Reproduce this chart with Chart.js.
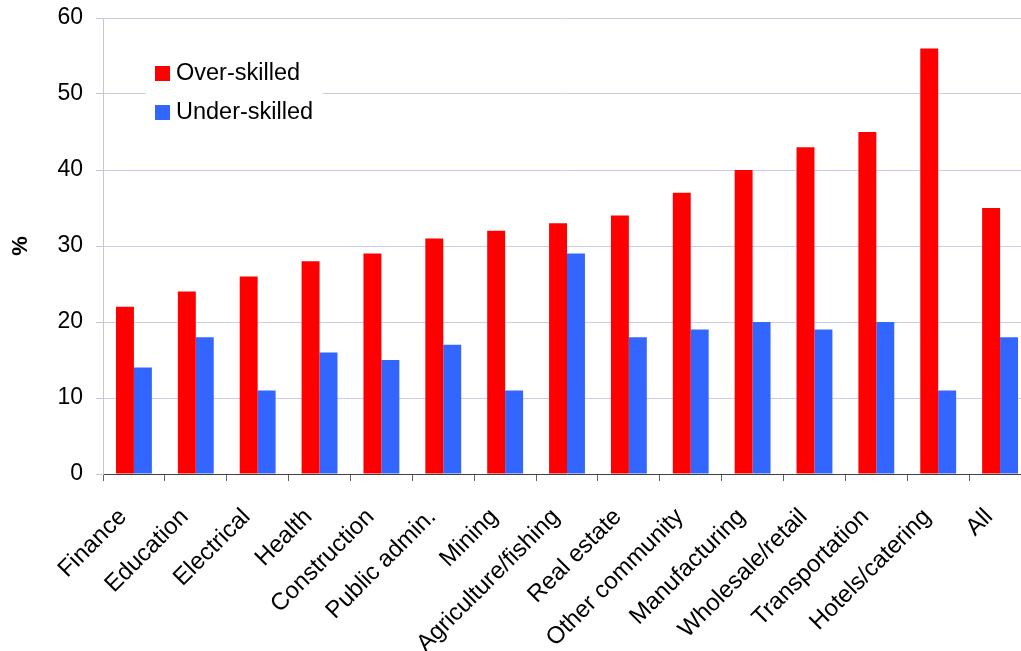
<!DOCTYPE html>
<html>
<head>
<meta charset="utf-8">
<script src="https://cdn.jsdelivr.net/npm/chart.js@4.4.1/dist/chart.umd.min.js"></script>
<style>
  html, body { margin: 0; padding: 0; background: #ffffff; overflow: hidden; }
  /* the plot runs slightly past the right edge of the window */
  #wrap { position: relative; width: 1031px; height: 651px; }
</style>
</head>
<body>
<div id="wrap"><canvas id="chart"></canvas></div>
<script>
const categories = ["Finance", "Education", "Electrical", "Health", "Construction", "Public admin.",
  "Mining", "Agriculture/fishing", "Real estate", "Other community", "Manufacturing",
  "Wholesale/retail", "Transportation", "Hotels/catering", "All"];
const overSkilled  = [22, 24, 26, 28, 29, 31, 32, 33, 34, 37, 40, 43, 45, 56, 35];
const underSkilled = [14, 18, 11, 16, 15, 17, 11, 29, 18, 19, 20, 19, 20, 11, 18];
const yTicks = [0, 10, 20, 30, 40, 50, 60];

const FONT = "'Liberation Sans', Arial, sans-serif";

// Legend drawn inside the plot area on a white panel
const insideLegend = {
  id: 'insideLegend',
  afterDatasetsDraw(chart) {
    const ctx = chart.ctx;
    const a = chart.chartArea;
    const x0 = a.left + 43, y0 = a.top + 34;
    ctx.save();
    ctx.fillStyle = '#ffffff';
    ctx.fillRect(x0, y0, 177, 82);
    ctx.font = '23.5px ' + FONT;
    ctx.textBaseline = 'middle';
    chart.data.datasets.forEach((ds, i) => {
      const cy = y0 + 21 + i * 39;
      ctx.fillStyle = ds.backgroundColor;
      ctx.fillRect(x0 + 9, cy - 7, 15, 15);
      ctx.fillStyle = '#000000';
      ctx.fillText(ds.label, x0 + 30, cy + 1);
    });
    ctx.restore();
  }
};

new Chart(document.getElementById('chart'), {
  type: 'bar',
  data: {
    labels: categories,
    datasets: [
      { label: 'Over-skilled', data: overSkilled, backgroundColor: '#ff0000' },
      { label: 'Under-skilled', data: underSkilled, backgroundColor: '#3366ff' }
    ]
  },
  options: {
    responsive: true,
    maintainAspectRatio: false,
    animation: false,
    layout: { padding: { top: 18, right: 0, bottom: 0, left: 0 } },
    datasets: { bar: { barPercentage: 1.0, categoryPercentage: 0.58 } },
    plugins: { legend: { display: false }, tooltip: { enabled: false } },
    scales: {
      x: {
        grid: { display: true, drawOnChartArea: false, offset: true, tickLength: 7, tickColor: '#606060', lineWidth: 1 },
        border: { display: true, color: '#404040', width: 1 },
        ticks: { color: '#000000', font: { family: FONT, size: 24 }, minRotation: 45, maxRotation: 45, autoSkip: false, padding: 22, labelOffset: -11 },
        afterFit(scale) { scale.height = 177; scale.paddingLeft = 0; scale.paddingRight = 0; }
      },
      y: {
        min: 0, max: 60,
        afterBuildTicks(scale) { scale.ticks = yTicks.map(v => ({ value: v })); },
        grid: { color: '#ccccf2', lineWidth: 1, tickLength: 7, tickColor: '#c8c8c8' },
        border: { display: true, color: '#c8c8c8', width: 1 },
        ticks: { color: '#000000', font: { family: FONT, size: 23 }, padding: 13 },
        title: { display: true, text: '%', color: '#000000', font: { family: FONT, size: 22, weight: 'bold' }, padding: { top: 8, bottom: 0 } },
        afterFit(scale) { scale.width = 103; scale.paddingTop = 0; scale.paddingBottom = 0; }
      }
    }
  },
  plugins: [insideLegend]
});
</script>
</body>
</html>
